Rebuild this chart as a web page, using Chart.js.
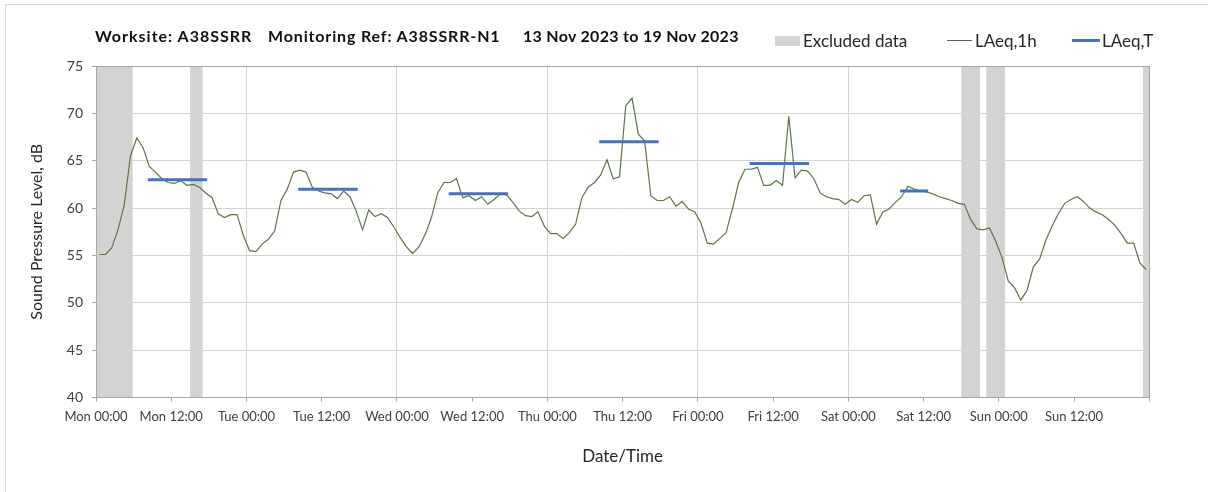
<!DOCTYPE html>
<html>
<head>
<meta charset="utf-8">
<script src="https://cdn.jsdelivr.net/npm/chart.js@4.4.1/dist/chart.umd.min.js"></script>
<style>
    body { margin: 0; background: #fff; }
    #wrap { position: relative; width: 1208px; height: 492px; overflow: hidden; font-family: Lato, "Open Sans", sans-serif; }
    #frame { position: absolute; left: 5px; top: 4px; width: 1400px; height: 700px; border: 1px solid #d9d9d9; }
    canvas { position: absolute; left: 0; top: 0; }
    .ttl { position: absolute; top: 26px; font-weight: bold; font-size: 16px; color: #111; white-space: nowrap; }
    .leg { position: absolute; top: 30px; font-size: 17px; color: #262626; white-space: nowrap; }
    .sw { position: absolute; }
</style>
</head>
<body>
<div id="wrap">
    <div id="frame"></div>
    <canvas id="chart" width="1208" height="492"></canvas>
    <div class="ttl" style="left:95px; letter-spacing:1px">Worksite: A38SSRR</div>
    <div class="ttl" style="left:268px; letter-spacing:0.85px">Monitoring Ref: A38SSRR-N1</div>
    <div class="ttl" style="left:523px; letter-spacing:0.3px">13 Nov 2023 to 19 Nov 2023</div>
    <div class="sw" style="left:775px; top:36px; width:25px; height:10px; background:#d3d3d3"></div>
    <div class="leg" style="left:803px">Excluded data</div>
    <div class="sw" style="left:947px; top:40px; width:25px; height:1px; background:#4f6a3a"></div>
    <div class="leg" style="left:975px">LAeq,1h</div>
    <div class="sw" style="left:1072px; top:39px; width:28px; height:3px; background:#4472c4"></div>
    <div class="leg" style="left:1102px">LAeq,T</div>
</div>
<script>
// hourly LAeq,1h values, Mon 00:00 .. Sun 23:00 (one value per hour)
const laeq1h = [
    55.1, 55.1, 55.8, 57.7, 60.3, 65.5, 67.4, 66.4, 64.4, 63.8, 63.1, 62.7,
    62.6, 62.9, 62.4, 62.5, 62.2, 61.6, 61.1, 59.4, 59.0, 59.3, 59.3, 57.1,
    55.5, 55.4, 56.2, 56.7, 57.6, 60.8, 62.0, 63.8, 64.0, 63.8, 62.2, 61.8,
    61.6, 61.5, 61.0, 61.8, 61.2, 59.7, 57.7, 59.8, 59.1, 59.4, 59.0, 58.0,
    56.9, 55.9, 55.2, 55.9, 57.2, 59.0, 61.6, 62.7, 62.7, 63.1, 61.1, 61.3,
    60.8, 61.2, 60.4, 60.9, 61.5, 61.4, 60.6, 59.7, 59.2, 59.1, 59.6, 58.1,
    57.3, 57.3, 56.8, 57.4, 58.3, 61.1, 62.2, 62.7, 63.5, 65.1, 63.1, 63.3,
    70.8, 71.6, 67.8, 67.1, 61.3, 60.8, 60.8, 61.2, 60.2, 60.7, 59.9, 59.6,
    58.4, 56.3, 56.2, 56.8, 57.4, 59.9, 62.7, 64.1, 64.1, 64.3, 62.4, 62.4,
    62.9, 62.4, 69.7, 63.2, 64.0, 63.9, 63.1, 61.6, 61.2, 61.0, 60.9, 60.4,
    60.9, 60.6, 61.3, 61.4, 58.3, 59.6, 59.9, 60.6, 61.2, 62.3, 62.0, 61.8,
    61.7, 61.5, 61.2, 61.0, 60.8, 60.5, 60.4, 58.8, 57.8, 57.7, 57.9, 56.5,
    54.8, 52.3, 51.6, 50.3, 51.3, 53.8, 54.6, 56.6, 58.1, 59.4, 60.5, 60.9,
    61.2, 60.7, 60.0, 59.6, 59.3, 58.8, 58.2, 57.3, 56.3, 56.3, 54.2, 53.5
];

// LAeq,T periods (hours from Mon 00:00)
const periodStart = [8.5, 32.5, 56.5, 80.5, 104.5, 128.5];
const periodEnd = [17.5, 41.5, 65.5, 89.5, 113.5, 132.5];
const periodLevel = [63.0, 62.0, 61.5, 67.0, 64.7, 61.8];

// excluded data ranges (hours from Mon 00:00)
const excludedStart = [0, 15, 138, 142, 167];
const excludedEnd = [5.85, 17, 141, 145, 168];

const xTickLabels = ['Mon 00:00', 'Mon 12:00', 'Tue 00:00', 'Tue 12:00', 'Wed 00:00', 'Wed 12:00',
    'Thu 00:00', 'Thu 12:00', 'Fri 00:00', 'Fri 12:00', 'Sat 00:00', 'Sat 12:00', 'Sun 00:00', 'Sun 12:00'];

const FONT = 'Lato, "Open Sans", sans-serif';

const hourlyPoints = laeq1h.map((v, i) => ({ x: i + 0.5, y: v }));
const periodPoints = [];
periodLevel.forEach((v, i) => {
    periodPoints.push({ x: periodStart[i], y: v });
    periodPoints.push({ x: periodEnd[i], y: v });
    periodPoints.push({ x: periodEnd[i] + 0.5, y: null });
});

const excludedBands = {
    id: 'excludedBands',
    beforeDraw(chart) {
        const { ctx, chartArea, scales } = chart;
        ctx.save();
        ctx.fillStyle = '#d3d3d3';
        excludedStart.forEach((s, i) => {
            const x1 = scales.x.getPixelForValue(s);
            const x2 = scales.x.getPixelForValue(excludedEnd[i]);
            ctx.fillRect(x1, chartArea.top, x2 - x1, chartArea.bottom - chartArea.top);
        });
        ctx.restore();
    }
};

new Chart(document.getElementById('chart'), {
    type: 'line',
    data: {
        datasets: [
            {
                label: 'LAeq,1h',
                data: hourlyPoints,
                borderColor: '#5a7645',
                borderWidth: 1.2,
                pointRadius: 0,
                tension: 0,
                order: 2
            },
            {
                label: 'LAeq,T',
                data: periodPoints,
                borderColor: '#4472c4',
                borderWidth: 3,
                borderCapStyle: 'square',
                pointRadius: 0,
                spanGaps: false,
                order: 1
            }
        ]
    },
    options: {
        responsive: false,
        animation: false,
        layout: { padding: { top: 66, left: 0, right: 58.7, bottom: 0 } },
        plugins: {
            legend: { display: false },
            tooltip: { enabled: false }
        },
        scales: {
            x: {
                type: 'linear',
                min: 0,
                max: 168,
                afterFit: (s) => { s.height = 94.5; },
                ticks: {
                    stepSize: 12,
                    autoSkip: false,
                    maxRotation: 0,
                    padding: 8,
                    color: '#404040',
                    font: { family: FONT, size: 13 },
                    callback: (v) => xTickLabels[v / 12] || ''
                },
                grid: {
                    color: (c) => c.tick.value === 168 ? '#a6a6a6' : (c.tick.value % 24 === 0 ? '#d4d4d4' : 'rgba(0,0,0,0)'),
                    tickColor: '#a6a6a6',
                    tickLength: 4
                },
                border: { color: '#a6a6a6' },
                title: {
                    display: true,
                    text: 'Date/Time',
                    color: '#262626',
                    font: { family: FONT, size: 17 },
                    padding: { top: 0, bottom: 24.8 }
                }
            },
            y: {
                min: 40,
                max: 75,
                afterFit: (s) => { s.width = 96; },
                ticks: {
                    stepSize: 5,
                    padding: 9,
                    color: '#404040',
                    font: { family: FONT, size: 14 }
                },
                grid: {
                    color: (c) => c.tick.value === 75 ? '#a6a6a6' : '#d4d4d4',
                    tickColor: '#a6a6a6',
                    tickLength: 4
                },
                border: { color: '#a6a6a6' },
                title: {
                    display: true,
                    text: 'Sound Pressure Level, dB',
                    color: '#262626',
                    font: { family: FONT, size: 16 },
                    padding: { top: 27.4, bottom: 0 }
                }
            }
        }
    },
    plugins: [excludedBands]
});
</script>
</body>
</html>
